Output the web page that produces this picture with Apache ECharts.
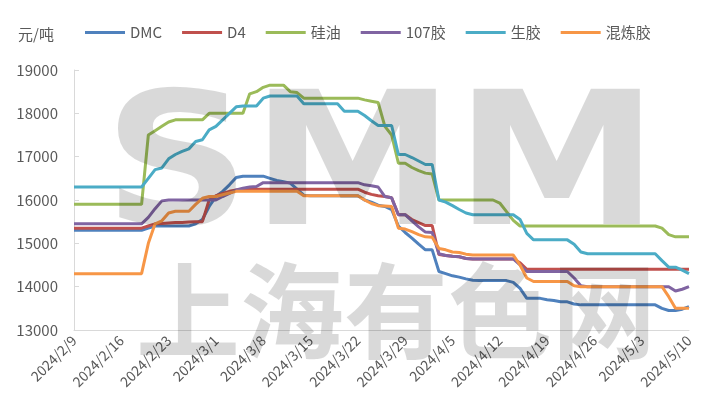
<!DOCTYPE html>
<html>
<head>
<meta charset="utf-8">
<script src="https://cdn.jsdelivr.net/npm/echarts@6/dist/echarts.min.js"></script>
<style>
html,body{margin:0;padding:0;background:#fff;}
#chart{width:703px;height:415px;}
</style>
</head>
<body>
<div id="chart"></div>
<script>
// Daily categories 2024/2/9 .. 2024/5/10
var startDate = '2024-02-09';
var dayCount = 92;
var seriesNames = ['DMC', 'D4', '硅油', '107胶', '生胶', '混炼胶'];
var unitLabel = '元/吨';
var yTicks = [13000, 14000, 15000, 16000, 17000, 18000, 19000];

var dmc = [15300,15300,15300,15300,15300,15300,15300,15300,15300,15300,15300,
  15350,15400,15400,15400,15400,15400,15400,15450,15550,15850,
  16080,16200,16350,16520,16550,16550,16550,16550,16500,16450,
  16420,16390,16250,16110,16100,16100,16100,16100,16100,16100,
  16100,16100,16000,15950,15880,15850,15780,15400,15250,15120,
  14980,14850,14850,14350,14300,14250,14220,14180,14150,14140,
  14140,14140,14140,14140,14100,13960,13730,13730,13730,13700,
  13680,13650,13650,13600,13580,13580,13580,13580,13580,13580,
  13580,13580,13580,13580,13580,13580,13500,13450,13450,13480,
  13540];
var d4 = [15350,15350,15350,15350,15350,15350,15350,15350,15350,15350,15350,
  15400,15450,15460,15470,15480,15480,15490,15500,15500,16000,
  16100,16150,16200,16230,16250,16250,16250,16250,16250,16250,
  16250,16250,16250,16250,16250,16250,16250,16250,16250,16250,
  16250,16250,16180,16130,16100,16080,16050,15660,15660,15550,
  15480,15410,15410,14740,14720,14700,14690,14650,14640,14640,
  14640,14640,14640,14640,14640,14550,14400,14400,14400,14400,
  14400,14400,14400,14400,14400,14400,14400,14400,14400,14400,
  14400,14400,14400,14400,14400,14400,14400,14400,14400,14400,
  14400];
var siliconeOil = [15900,15900,15900,15900,15900,15900,15900,15900,15900,15900,15900,
  17500,17600,17700,17800,17850,17850,17850,17850,17850,18000,
  18000,18000,18000,18000,18000,18450,18500,18600,18650,18650,
  18650,18500,18480,18350,18350,18350,18350,18350,18350,18350,
  18350,18350,18310,18280,18250,17700,17500,16850,16850,16750,
  16680,16620,16600,16000,16000,16000,16000,16000,16000,16000,
  16000,16000,15930,15730,15530,15400,15400,15400,15400,15400,
  15400,15400,15400,15400,15400,15400,15400,15400,15400,15400,
  15400,15400,15400,15400,15400,15400,15350,15200,15150,15150,
  15150];
var rubber107 = [15450,15450,15450,15450,15450,15450,15450,15450,15450,15450,15450,
  15600,15800,15980,16000,16000,16000,16000,16000,16000,16000,
  16000,16080,16150,16230,16270,16300,16310,16400,16400,16400,
  16400,16400,16400,16400,16400,16400,16400,16400,16400,16400,
  16400,16400,16350,16330,16300,16080,16050,15660,15660,15520,
  15380,15260,15250,14760,14720,14700,14690,14650,14640,14640,
  14640,14640,14640,14640,14640,14500,14350,14350,14350,14350,
  14350,14350,14350,14200,14020,14000,14000,14000,14000,14000,
  14000,14000,14000,14000,14000,14000,14000,14000,13900,13940,
  14000];
var rawRubber = [16300,16300,16300,16300,16300,16300,16300,16300,16300,16300,16300,
  16500,16700,16740,16950,17050,17120,17180,17350,17390,17620,
  17700,17850,18000,18150,18170,18170,18170,18350,18400,18400,
  18400,18400,18400,18220,18220,18220,18220,18220,18220,18050,
  18050,18050,17950,17830,17720,17720,17720,17050,17050,16980,
  16900,16820,16820,16000,15950,15870,15780,15700,15660,15660,
  15660,15660,15660,15660,15660,15550,15230,15080,15080,15080,
  15080,15080,15080,14980,14800,14760,14760,14760,14760,14760,
  14760,14760,14760,14760,14760,14760,14600,14450,14450,14380,
  14300];
var compound = [14300,14300,14300,14300,14300,14300,14300,14300,14300,14300,14300,
  15000,15450,15520,15700,15740,15740,15740,15900,16040,16080,
  16080,16120,16160,16200,16200,16200,16200,16200,16200,16200,
  16200,16200,16200,16100,16100,16100,16100,16100,16100,16100,
  16100,16100,16000,15920,15870,15860,15850,15350,15330,15270,
  15200,15150,15140,14880,14850,14800,14790,14750,14730,14730,
  14730,14730,14730,14730,14730,14500,14200,14120,14120,14120,
  14120,14120,14120,14020,14000,14000,14000,14000,14000,14000,
  14000,14000,14000,14000,14000,14000,14000,13770,13500,13500,
  13500];

var colors = ['#4F81BD', '#C0504D', '#9BBB59', '#8064A2', '#4BACC6', '#F79646'];

function buildDates(start, n) {
  var p = start.split('-');
  var t0 = Date.UTC(+p[0], +p[1] - 1, +p[2]);
  var out = [];
  for (var i = 0; i < n; i++) {
    var d = new Date(t0 + i * 86400000);
    out.push(d.getUTCFullYear() + '/' + (d.getUTCMonth() + 1) + '/' + d.getUTCDate());
  }
  return out;
}
var dates = buildDates(startDate, dayCount);
var allData = [dmc, d4, siliconeOil, rubber107, rawRubber, compound];

var font = '"Noto Sans CJK SC", "Noto Sans", sans-serif';
var chart = echarts.init(document.getElementById('chart'), null, {renderer: 'canvas'});
chart.setOption({
  animation: false,
  backgroundColor: '#ffffff',
  color: colors,
  textStyle: {fontFamily: font},
  grid: {left: 74, right: 14, top: 70, bottom: 85, containLabel: false},
  legend: {
    top: 20, left: 80,
    itemWidth: 40, itemHeight: 3, itemGap: 20,
    icon: 'rect',
    textStyle: {fontSize: 15, color: '#595959', fontFamily: font},
    data: seriesNames
  },
  xAxis: {
    type: 'category',
    boundaryGap: false,
    data: dates,
    axisLine: {lineStyle: {color: '#D9D9D9', width: 1}},
    axisTick: {show: false},
    axisLabel: {interval: 6, rotate: 45, fontSize: 14, color: '#595959', margin: 8, fontFamily: font},
    splitLine: {show: false}
  },
  yAxis: {
    type: 'value',
    min: yTicks[0], max: yTicks[yTicks.length - 1], interval: 1000,
    axisLine: {show: true, lineStyle: {color: '#D9D9D9', width: 1}},
    axisTick: {show: true, inside: true, length: 5, lineStyle: {color: '#D9D9D9'}},
    axisLabel: {fontSize: 15, color: '#595959', margin: 16, fontFamily: font,
      formatter: function (v) { return String(v); }},
    splitLine: {show: false}
  },
  graphic: [
    {type: 'text', left: 18, top: 27, z: 10,
     style: {text: unitLabel, fontSize: 15, fill: '#595959', fontFamily: font}},
    {type: 'text', z: 100, silent: true,
     x: 381, y: 176, scaleY: 0.9,
     style: {text: 'SMM', fontSize: 205, fontWeight: 'bold', fontFamily: '"DejaVu Sans", sans-serif',
       fill: 'rgba(0,0,0,0.15)', align: 'center', verticalAlign: 'middle'}},
    {type: 'text', z: 100, silent: true,
     x: 396, y: 311,
     style: {text: '上海有色网', fontSize: 104, fontWeight: 'bold', fontFamily: '"Noto Sans CJK SC", sans-serif',
       fill: 'rgba(0,0,0,0.15)', align: 'center', verticalAlign: 'middle'}}
  ],
  series: allData.map(function (arr, i) {
    return {
      name: seriesNames[i],
      type: 'line',
      data: arr,
      showSymbol: false,
      symbol: 'none',
      lineStyle: {width: 3, color: colors[i]},
      itemStyle: {color: colors[i]}
    };
  })
});
</script>
</body>
</html>
